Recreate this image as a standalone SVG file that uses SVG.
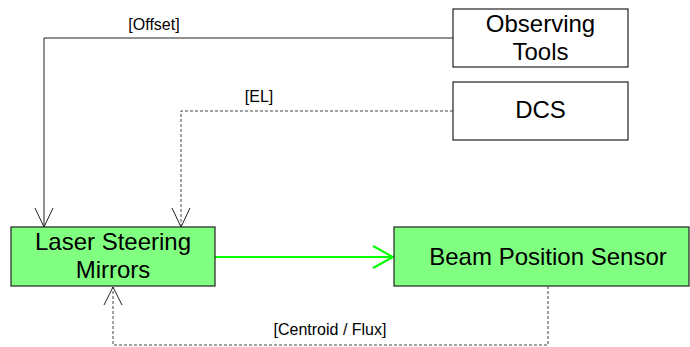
<svg xmlns="http://www.w3.org/2000/svg" width="690" height="347" viewBox="0 0 690 347">
<style>
.box{fill:#fff;stroke:#222;stroke-width:1.2}
.g{fill:#80ff80;stroke:#222;stroke-width:1.2}
.t{font-family:"Liberation Sans",Arial,sans-serif;font-size:24px;fill:#000;text-anchor:middle}
.l{font-family:"Liberation Sans",Arial,sans-serif;font-size:16px;fill:#000;text-anchor:middle}
.solid{fill:none;stroke:#222;stroke-width:1}
.dash{fill:none;stroke:#444;stroke-width:1;stroke-dasharray:3,2}
.head{fill:none;stroke:#222;stroke-width:1}
.green{fill:none;stroke:#00ff00;stroke-width:2}
</style>
<rect width="690" height="347" fill="#fff"/>
<g id="connectors">
  <g id="c-offset">
    <polyline class="solid" points="453,38 44,38 44,227"/>
    <polyline class="head" points="35,208 44,227 53,208"/>
    <text class="l" x="154" y="30">[Offset]</text>
  </g>
  <g id="c-el">
    <polyline class="dash" points="453,111 181,111 181,227"/>
    <polyline class="head" points="172,208 181,227 190,208"/>
    <text class="l" x="259" y="102">[EL]</text>
  </g>
  <g id="c-beam">
    <line class="green" x1="215" y1="257" x2="393" y2="257"/>
    <polyline class="green" points="373,246 393,257 373,268"/>
  </g>
  <g id="c-centroid">
    <polyline class="dash" points="548,286 548,345 113,345 113,287"/>
    <polyline class="head" points="104,305 113,287 122,305"/>
    <text class="l" x="330" y="335">[Centroid / Flux]</text>
  </g>
</g>
<g id="observing-tools">
  <rect class="box" x="453" y="9" width="175" height="58"/>
  <text class="t" x="540.5" y="32">Observing</text>
  <text class="t" x="540.5" y="60">Tools</text>
</g>
<g id="dcs">
  <rect class="box" x="453" y="82" width="175" height="58"/>
  <text class="t" x="540.5" y="118">DCS</text>
</g>
<g id="laser-steering-mirrors">
  <rect class="g" x="11" y="227" width="204" height="59"/>
  <text class="t" x="113" y="250">Laser Steering</text>
  <text class="t" x="113" y="278">Mirrors</text>
</g>
<g id="beam-position-sensor">
  <rect class="g" x="394" y="227" width="295" height="59"/>
  <text class="t" x="548" y="265">Beam Position Sensor</text>
</g>
</svg>
